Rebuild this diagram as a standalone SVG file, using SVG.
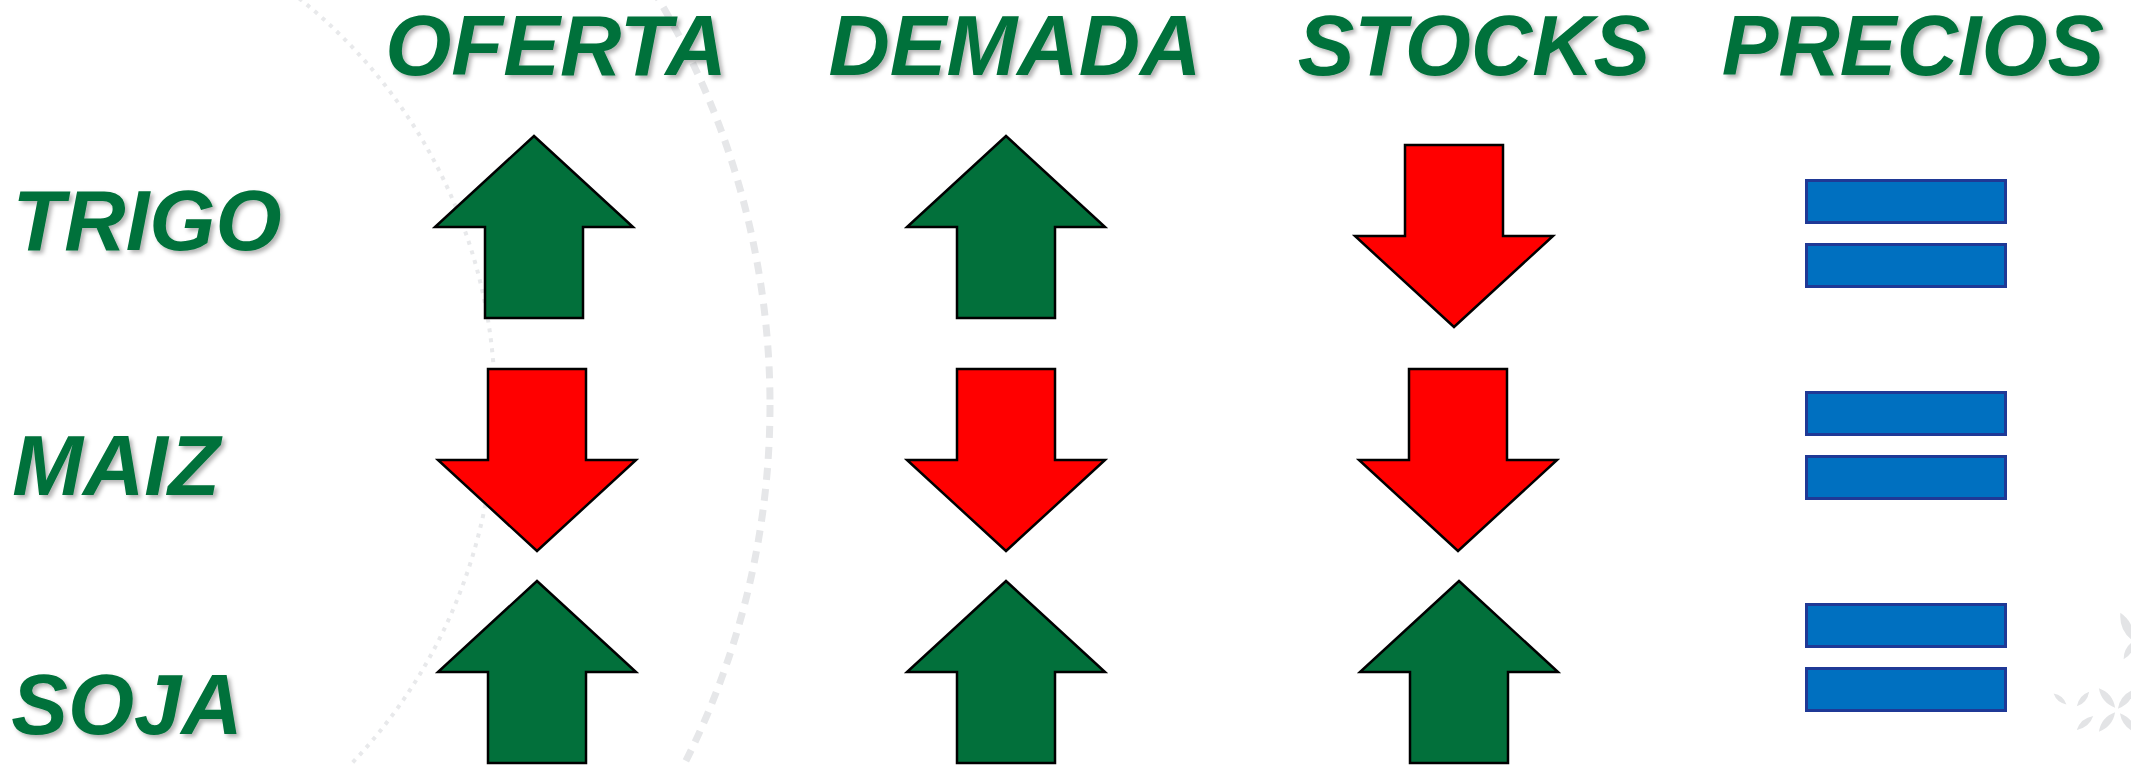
<svg xmlns="http://www.w3.org/2000/svg" xmlns:xlink="http://www.w3.org/1999/xlink" width="2131" height="765" viewBox="0 0 2131 765">
  <defs>
    <style>
      .label { font-family: "Liberation Sans", Arial, sans-serif; font-weight: bold; font-style: italic; font-size: 85px; fill: #03713B; text-anchor: middle; filter: url(#shadow); }
      .up { fill: #02703B; stroke: #000; stroke-width: 2.5; stroke-linejoin: miter; }
      .down { fill: #FF0000; stroke: #000; stroke-width: 2.5; stroke-linejoin: miter; }
      .bar { fill: #0070C0; stroke: #1F3996; stroke-width: 3; }
      .ring-a { fill: none; stroke: #E8E9EB; stroke-width: 4; stroke-dasharray: 4 6; }
      .ring-b { fill: none; stroke: #E6E7E9; stroke-width: 7; stroke-dasharray: 12 9; }
      .leaf { fill: #E3E4E6; }
    </style>
    <filter id="shadow" x="-10%" y="-20%" width="130%" height="150%">
      <feDropShadow dx="3" dy="3" stdDeviation="2" flood-color="#000" flood-opacity="0.3"/>
    </filter>
    <!-- block arrows, tip / shaft top at the local origin -->
    <path id="arrow-up" d="M0,0 L99,91 L49,91 L49,182 L-49,182 L-49,91 L-99,91 Z"/>
    <path id="arrow-down" d="M-49,0 L49,0 L49,91 L99,91 L0,182 L-99,91 L-49,91 Z"/>
    <path id="leaf" d="M0,-12 Q7,0 0,12 Q-7,0 0,-12 Z"/>
  </defs>

  <rect width="2131" height="765" fill="#FFFFFF"/>

  <!-- background decoration -->
  <g id="background">
    <circle class="ring-a" cx="-25" cy="405" r="520"/>
    <circle class="ring-b" cx="-25" cy="405" r="795"/>
    <g id="flower">
      <use xlink:href="#leaf" class="leaf" transform="translate(2060,699) rotate(-50) scale(0.7)"/>
      <use xlink:href="#leaf" class="leaf" transform="translate(2083,699) rotate(40) scale(0.8)"/>
      <use xlink:href="#leaf" class="leaf" transform="translate(2107,698) rotate(-40) scale(1.05)"/>
      <use xlink:href="#leaf" class="leaf" transform="translate(2126,699) rotate(40) scale(1.05)"/>
      <use xlink:href="#leaf" class="leaf" transform="translate(2085,723) rotate(50) scale(0.9)"/>
      <use xlink:href="#leaf" class="leaf" transform="translate(2107,722) rotate(40) scale(1.05)"/>
      <use xlink:href="#leaf" class="leaf" transform="translate(2128,723) rotate(-40) scale(1.05)"/>
      <use xlink:href="#leaf" class="leaf" transform="translate(2127,627) rotate(-25) scale(1.3)"/>
      <use xlink:href="#leaf" class="leaf" transform="translate(2129,650) rotate(30) scale(0.9)"/>
    </g>
  </g>

  <!-- column headers -->
  <g id="header-oferta"><text class="label" x="556" y="75">OFERTA</text></g>
  <g id="header-demada"><text class="label" x="1015" y="75">DEMADA</text></g>
  <g id="header-stocks"><text class="label" x="1474" y="75">STOCKS</text></g>
  <g id="header-precios"><text class="label" x="1913" y="75">PRECIOS</text></g>

  <!-- row labels -->
  <g id="row-trigo"><text class="label" x="147" y="250">TRIGO</text></g>
  <g id="row-maiz"><text class="label" x="116" y="495">MAIZ</text></g>
  <g id="row-soja"><text class="label" x="127" y="734">SOJA</text></g>

  <!-- TRIGO -->
  <g id="trigo-oferta"><use xlink:href="#arrow-up" class="up" x="534" y="136"/></g>
  <g id="trigo-demada"><use xlink:href="#arrow-up" class="up" x="1006" y="136"/></g>
  <g id="trigo-stocks"><use xlink:href="#arrow-down" class="down" x="1454" y="145"/></g>
  <g id="trigo-precios">
    <rect class="bar" x="1806.5" y="180.5" width="199" height="42"/>
    <rect class="bar" x="1806.5" y="244.5" width="199" height="42"/>
  </g>

  <!-- MAIZ -->
  <g id="maiz-oferta"><use xlink:href="#arrow-down" class="down" x="537" y="369"/></g>
  <g id="maiz-demada"><use xlink:href="#arrow-down" class="down" x="1006" y="369"/></g>
  <g id="maiz-stocks"><use xlink:href="#arrow-down" class="down" x="1458" y="369"/></g>
  <g id="maiz-precios">
    <rect class="bar" x="1806.5" y="392.5" width="199" height="42"/>
    <rect class="bar" x="1806.5" y="456.5" width="199" height="42"/>
  </g>

  <!-- SOJA -->
  <g id="soja-oferta"><use xlink:href="#arrow-up" class="up" x="537" y="581"/></g>
  <g id="soja-demada"><use xlink:href="#arrow-up" class="up" x="1006" y="581"/></g>
  <g id="soja-stocks"><use xlink:href="#arrow-up" class="up" x="1459" y="581"/></g>
  <g id="soja-precios">
    <rect class="bar" x="1806.5" y="604.5" width="199" height="42"/>
    <rect class="bar" x="1806.5" y="668.5" width="199" height="42"/>
  </g>

  <!-- no connectors between nodes -->
  <g id="connectors"/>
</svg>
